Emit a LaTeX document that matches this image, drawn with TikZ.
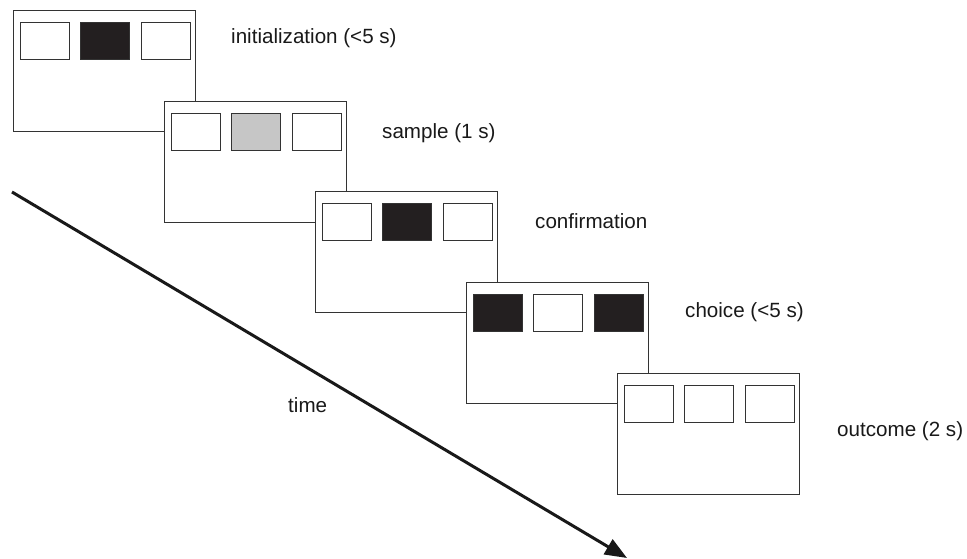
\documentclass[tikz,border=0pt]{standalone}
\usepackage{fontspec}
\setmainfont{Liberation Sans}
\usetikzlibrary{arrows.meta}
\definecolor{ink}{HTML}{231F20}
\definecolor{lightgrey}{HTML}{C6C6C6}
\begin{document}
\begin{tikzpicture}[x=1pt,y=-1pt,
  screen/.style={draw=black!80,fill=white,line width=1.2pt,rectangle,inner sep=0pt,
    minimum width=182pt,minimum height=121pt,anchor=north west},
  cell/.style={draw=black!80,line width=1.4pt,rectangle,inner sep=0pt,
    minimum width=49pt,minimum height=37pt,anchor=north west},
  on/.style={cell,fill=ink},
  off/.style={cell,fill=white},
  cue/.style={cell,fill=lightgrey},
  caption/.style={anchor=base west,inner sep=0pt,font=\fontsize{20.6}{24}\selectfont,text=black!90}]
\useasboundingbox (0,0) rectangle (967,558);

% one screen per trial phase: frame plus three response keys
\newcommand{\trialscreen}[5]{%
  \node[screen] (#1) at (#2) {};
  \node[#3] (#1a) at ([shift={(6.5,12)}]#1.north west) {};
  \node[#4] (#1b) at ([shift={(67,12)}]#1.north west) {};
  \node[#5] (#1c) at ([shift={(127.5,12)}]#1.north west) {};
}
\trialscreen{init}{13,10}{off}{on}{off}
\trialscreen{samp}{164,101}{off}{cue}{off}
\trialscreen{conf}{315,191}{off}{on}{off}
\trialscreen{choi}{466,282}{on}{off}{on}
\trialscreen{outc}{617,373}{off}{off}{off}

% phase labels
\node[caption] (linit) at (231,43.3) {initialization (<5 s)};
\node[caption] (lsamp) at (382,138.3) {sample (1 s)};
\node[caption] (lconf) at (535,228) {confirmation};
\node[caption] (lchoi) at (685,317.3) {choice (<5 s)};
\node[caption] (loutc) at (837,436.7) {outcome (2 s)};

% time axis
\coordinate (tstart) at (12,192);
\coordinate (tend) at (627,558);
\draw[line width=3pt,black!90,-{Triangle[length=22pt,width=17pt]}] (tstart) -- (tend);
\node[caption] (ltime) at (288,412) {time};
\end{tikzpicture}
\end{document}
